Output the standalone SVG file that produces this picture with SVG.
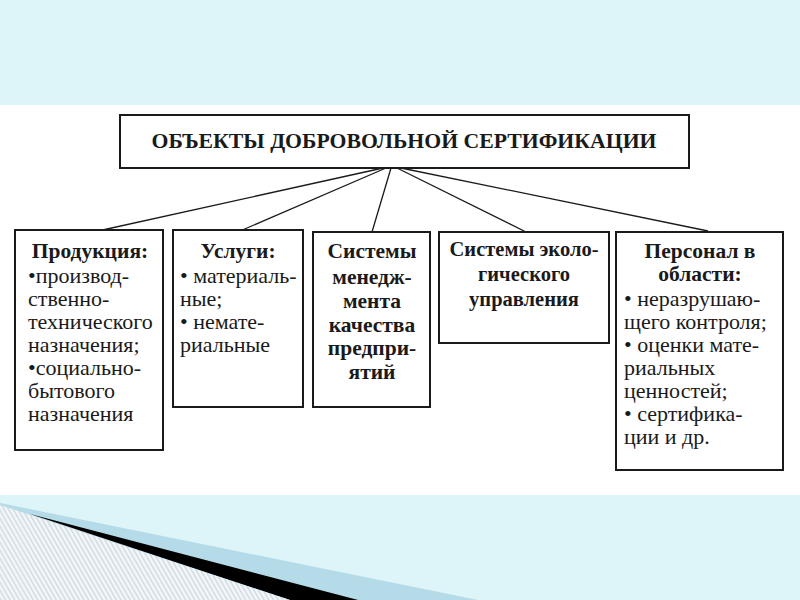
<svg xmlns="http://www.w3.org/2000/svg" width="800" height="600" viewBox="0 0 800 600">
<defs>
<pattern id="hatch" width="4" height="4" patternUnits="userSpaceOnUse" patternTransform="rotate(-30)">
<rect width="4" height="4" fill="#f4f7f9"/>
<rect width="1.5" height="4" fill="#cfdae1"/>
</pattern>
</defs>
<style>
.box{fill:#fff;stroke:#1a1a1a;stroke-width:2}
.ln{stroke:#1a1a1a;stroke-width:1.3;fill:none}
text{font-family:"Liberation Serif","Times New Roman",serif;font-size:22px;fill:#1a1a1a}
.b{font-weight:bold;font-size:21.5px}
.c{text-anchor:middle}
.t{font-size:20px}
.e{font-size:20.5px}
</style>
<rect x="0" y="0" width="800" height="600" fill="#fff"/>
<rect x="0" y="0" width="800" height="105" fill="#ddf4f9"/>
<rect x="0" y="495" width="800" height="105" fill="#ddf4f9"/>
<polygon points="0,503 483,601 0,601" fill="#b6dbe8"/>
<polygon points="30,514 362,601 293,601" fill="#000"/>
<polygon points="0,505 293,601 0,601" fill="url(#hatch)"/>
<g id="connectors">
<line class="ln" x1="383" y1="168" x2="98" y2="231"/>
<line class="ln" x1="386" y1="168" x2="240" y2="231"/>
<line class="ln" x1="391" y1="168" x2="372" y2="232"/>
<line class="ln" x1="397" y1="168" x2="526" y2="232"/>
<line class="ln" x1="401" y1="168" x2="708" y2="231"/>
</g>
<g id="root">
<rect class="box" x="120" y="115" width="569" height="53"/>
<text class="b c t" x="404" y="148" textLength="505" lengthAdjust="spacingAndGlyphs">ОБЪЕКТЫ ДОБРОВОЛЬНОЙ СЕРТИФИКАЦИИ</text>
</g>
<g id="products">
<rect class="box" x="15" y="230" width="148" height="220"/>
<text class="b c" x="90" y="258">Продукция:</text>
<text x="28" y="283">•производ-</text>
<text x="28" y="306">ственно-</text>
<text x="28" y="329">технического</text>
<text x="28" y="352">назначения;</text>
<text x="28" y="375">•социально-</text>
<text x="28" y="398">бытового</text>
<text x="28" y="421">назначения</text>
</g>
<g id="services">
<rect class="box" x="173" y="230" width="130" height="177"/>
<text class="b c" x="238" y="258">Услуги:</text>
<text x="180" y="283">• материаль-</text>
<text x="180" y="306">ные;</text>
<text x="180" y="329">• немате-</text>
<text x="180" y="352">риальные</text>
</g>
<g id="qms">
<rect class="box" x="313" y="232" width="117" height="175"/>
<text class="b c" x="372" y="258">Системы</text>
<text class="b c" x="372" y="284">менедж-</text>
<text class="b c" x="372" y="308">мента</text>
<text class="b c" x="372" y="332">качества</text>
<text class="b c" x="372" y="355">предпри-</text>
<text class="b c" x="372" y="379">ятий</text>
</g>
<g id="ems">
<rect class="box" x="439" y="232" width="170" height="111"/>
<text class="b c e" x="524" y="256">Системы эколо-</text>
<text class="b c e" x="524" y="281">гического</text>
<text class="b c e" x="524" y="306">управления</text>
</g>
<g id="personnel">
<rect class="box" x="616" y="232" width="167" height="238"/>
<text class="b c" x="700" y="258">Персонал в</text>
<text class="b c" x="700" y="281">области:</text>
<text x="624" y="306">• неразрушаю-</text>
<text x="624" y="329">щего контроля;</text>
<text x="624" y="352">• оценки мате-</text>
<text x="624" y="375">риальных</text>
<text x="624" y="398">ценностей;</text>
<text x="624" y="421">• сертифика-</text>
<text x="624" y="444">ции и др.</text>
</g>
</svg>
